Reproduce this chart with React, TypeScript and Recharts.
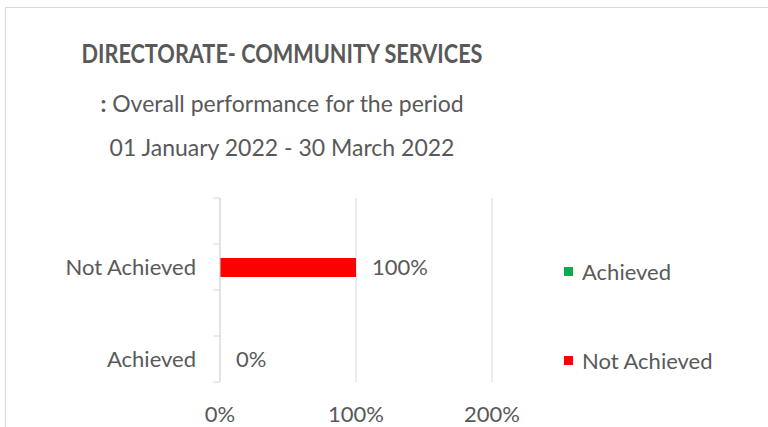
import React from 'react';
import { BarChart, Bar, XAxis, YAxis, CartesianGrid, LabelList, Legend, Cell } from 'recharts';

const categories = ['', 'Not Achieved', '', 'Achieved'];
const values: (number | null)[] = [null, 1, null, 0];
const barColors = ['#FF0000', '#FF0000', '#00B050', '#00B050'];
const xTicks = [0, 1, 2];
const legendItems = [
  { label: 'Achieved', color: '#00B050' },
  { label: 'Not Achieved', color: '#FF0000' },
];
const titleLine1 = 'DIRECTORATE- COMMUNITY SERVICES';
const titleLine2 = 'Overall performance for the period';
const titleLine3 = '01 January 2022 - 30 March 2022';

const data = categories.map((name, i) => ({ name, value: values[i] }));

const FONT = 'Lato, "Open Sans", sans-serif';
const TEXT = '#595959';
const GRID = '#D9D9D9';
const TICK_SIZE = 7;
const TICK_MARGIN = 17;

const pct = (v: any) => (v === null || v === undefined ? '' : `${Math.round(Number(v) * 100)}%`);

const CategoryTick = (props: any) => {
  const { x, y, payload, index, visibleTicksCount } = props;
  const off = payload && typeof payload.offset === 'number' ? payload.offset : 0;
  const axisX = x + TICK_MARGIN + TICK_SIZE;
  const isLast = index === visibleTicksCount - 1;
  return (
    <g>
      <line x1={axisX - TICK_SIZE} x2={axisX} y1={y - off} y2={y - off} stroke={GRID} strokeWidth={1} />
      {isLast && (
        <line x1={axisX - TICK_SIZE} x2={axisX} y1={y + off} y2={y + off} stroke={GRID} strokeWidth={1} />
      )}
      <text x={x} y={y} dy="0.35em" textAnchor="end" fill={TEXT} fontSize={22} fontFamily={FONT}>
        {payload.value}
      </text>
    </g>
  );
};

const ValueLabel = (props: any) => {
  const { x, y, width, height, value } = props;
  const txt = pct(value);
  if (!txt) return null;
  return (
    <text
      x={Number(x) + Number(width) + 16}
      y={Number(y) + Number(height) / 2}
      dy="0.35em"
      textAnchor="start"
      fill={TEXT}
      fontSize={22}
      fontFamily={FONT}
    >
      {txt}
    </text>
  );
};

const LegendContent = () => (
  <div style={{ fontFamily: FONT, fontSize: 22, color: TEXT }}>
    {legendItems.map((it, i) => (
      <div key={i} style={{ display: 'flex', alignItems: 'center', height: 89 }}>
        <span style={{ display: 'inline-block', width: 9, height: 9, background: it.color, marginRight: 9 }} />
        <span>{it.label}</span>
      </div>
    ))}
  </div>
);

export default function App() {
  return (
    <div style={{ position: 'fixed', left: 0, top: 0, width: 768, height: 427, overflow: 'hidden', background: '#fff' }}>
      <div
        style={{
          position: 'absolute',
          left: 5,
          top: 7,
          width: 770,
          height: 440,
          border: `1px solid ${GRID}`,
          boxSizing: 'border-box',
        }}
      />
      <svg width={768} height={190} style={{ position: 'absolute', left: 0, top: 0 }}>
        <text
          x={282}
          y={63}
          textAnchor="middle"
          fill={TEXT}
          fontFamily={FONT}
          fontSize={27}
          fontWeight="bold"
          textLength={401}
          lengthAdjust="spacingAndGlyphs"
        >
          {titleLine1}
        </text>
        <text x={282} y={112} textAnchor="middle" fill={TEXT} fontFamily={FONT} fontSize={23}>
          <tspan fontWeight="bold">:</tspan>
          <tspan> {titleLine2}</tspan>
        </text>
        <text x={282} y={156} textAnchor="middle" fill={TEXT} fontFamily={FONT} fontSize={23}>
          {titleLine3}
        </text>
      </svg>
      <div style={{ position: 'absolute', left: 0, top: 0 }}>
        <BarChart
          width={768}
          height={427}
          data={data}
          layout="vertical"
          margin={{ top: 198, right: 276, bottom: 15, left: 20 }}
        >
          <CartesianGrid horizontal={false} vertical stroke={GRID} strokeWidth={1} />
          <XAxis
            type="number"
            domain={[0, 2]}
            ticks={xTicks}
            tickFormatter={pct}
            axisLine={false}
            tickLine={false}
            tickSize={0}
            tickMargin={24}
            height={30}
            tick={{ fill: TEXT, fontSize: 22, fontFamily: FONT }}
            allowDataOverflow
          />
          <YAxis
            type="category"
            dataKey="name"
            width={200}
            interval={0}
            axisLine={{ stroke: GRID, strokeWidth: 1 }}
            tickLine={false}
            tickSize={TICK_SIZE}
            tickMargin={TICK_MARGIN}
            tick={<CategoryTick />}
            allowDuplicatedCategory
          />
          <Legend
            layout="horizontal"
            align="center"
            verticalAlign="middle"
            content={<LegendContent />}
            wrapperStyle={{ position: 'absolute', left: 564, top: 227, width: 200, height: 180 }}
          />
          <Bar dataKey="value" barSize={19} minPointSize={0.01} isAnimationActive={false} legendType="none">
            {data.map((_, i) => (
              <Cell key={i} fill={barColors[i]} />
            ))}
            <LabelList dataKey="value" content={<ValueLabel />} />
          </Bar>
        </BarChart>
      </div>
    </div>
  );
}
